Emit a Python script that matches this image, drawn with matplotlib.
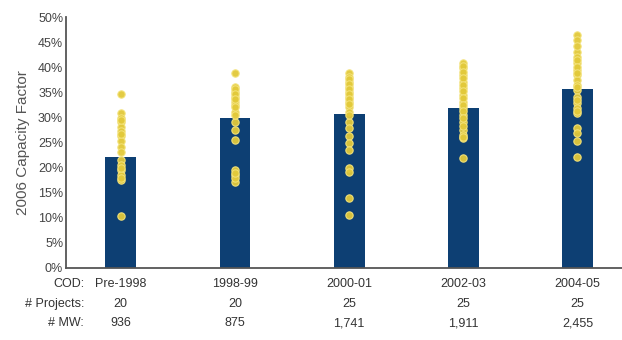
import matplotlib
matplotlib.use("Agg")
import matplotlib.pyplot as plt
from matplotlib.ticker import FuncFormatter

plt.rcParams['font.family'] = ['Liberation Sans', 'DejaVu Sans']

cod = ["Pre-1998", "1998-99", "2000-01", "2002-03", "2004-05"]
projects = ["20", "20", "25", "25", "25"]
mw = ["936", "875", "1,741", "1,911", "2,455"]
avg_cf = [22.1, 29.9, 30.7, 31.9, 35.7]

proj_cf = [
    [34.7, 30.8, 29.8, 29.0, 28.1, 27.2, 26.2, 25.2, 24.2, 23.2, 21.5, 20.5,
     19.5, 18.5, 17.5, 10.4, 29.5, 26.7, 20.0, 18.0],
    [38.9, 36.1, 35.1, 34.1, 33.1, 32.5, 31.1, 29.1, 27.5, 25.5, 19.5, 18.5,
     17.2, 35.6, 34.6, 33.6, 32.0, 30.5, 18.0, 19.0],
    [38.9, 38.1, 37.1, 36.1, 35.1, 34.1, 33.1, 32.1, 31.1, 29.1, 27.8, 26.2,
     24.8, 23.5, 19.9, 19.2, 13.9, 10.6, 37.6, 36.6, 35.6, 34.6, 33.6, 32.6, 30.5],
    [40.8, 39.8, 38.4, 37.1, 35.8, 34.5, 33.1, 31.8, 30.5, 29.1, 27.5, 26.5,
     25.8, 21.9, 40.3, 39.1, 37.8, 36.5, 35.2, 33.8, 32.5, 31.2, 29.8, 28.3, 26.0],
    [46.4, 45.4, 43.1, 42.1, 40.8, 39.4, 38.4, 37.5, 36.5, 35.5, 34.1, 32.8,
     31.8, 30.8, 27.8, 26.8, 25.2, 22.2, 44.2, 41.5, 40.0, 38.9, 36.0, 33.4, 31.3],
]

fig = plt.figure(figsize=(6.22, 3.4), dpi=100)
ax = fig.add_axes([0.106, 0.2118, 0.894, 0.7382])

x = list(range(len(cod)))
ax.bar(x, avg_cf, width=0.27, color="#0d3f73", zorder=2)
for i, vals in enumerate(proj_cf):
    ax.scatter([i] * len(vals), vals, s=28, color="#e2c93a",
               edgecolors="#f3e27a", linewidths=0.8, zorder=3, alpha=0.95)

ax.set_xlim(-0.48, 4.39)
ax.set_ylim(0, 50)
ax.set_yticks(range(0, 51, 5))
ax.yaxis.set_major_formatter(FuncFormatter(lambda v, p: f"{int(v)}%"))
ax.tick_params(axis="y", length=0, pad=2, labelsize=9, labelcolor="#444444")
ax.set_xticks([])
for s in ["top", "right"]:
    ax.spines[s].set_visible(False)
for s in ["left", "bottom"]:
    ax.spines[s].set_color("#555555")
    ax.spines[s].set_linewidth(1.3)

ax.set_ylabel("2006 Capacity Factor", fontsize=11, color="#555555", labelpad=6)

# table of period information below the axis
rows = [("COD:", cod), ("# Projects:", projects), ("# MW:", mw)]
row_y = [284, 304, 323]
for (label, vals), py in zip(rows, row_y):
    yf = 1 - py / 340
    fig.text(84 / 622, yf, label, ha="right", va="center", fontsize=9, color="#333333")
    for i, v in enumerate(vals):
        xd = ax.transData.transform((i, 0))[0]
        fig.text(xd / fig.bbox.width, yf, v, ha="center", va="center",
                 fontsize=9, color="#333333")

fig.savefig("out.png", dpi=100)
